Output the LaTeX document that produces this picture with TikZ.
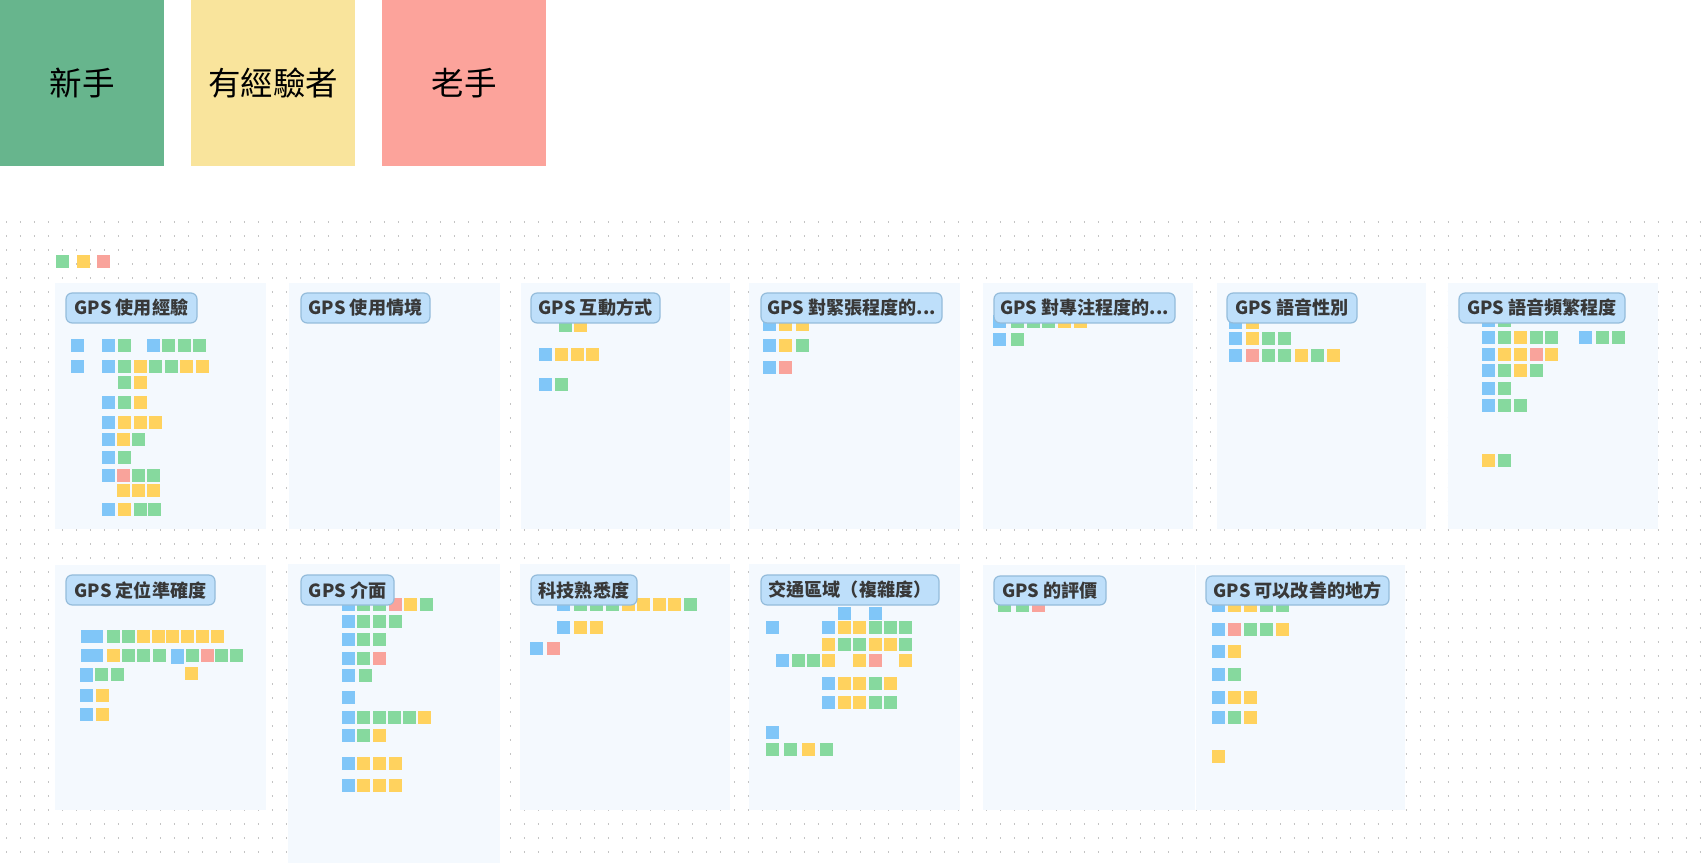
\documentclass[tikz,border=0pt]{standalone}
\usepackage{fontspec}
\newfontfamily\cjk{Noto Sans CJK TC}
\definecolor{lgG}{HTML}{67B58D}
\definecolor{lgY}{HTML}{F9E49C}
\definecolor{lgR}{HTML}{FCA39B}
\definecolor{stB}{HTML}{80C6F8}
\definecolor{stG}{HTML}{86D99E}
\definecolor{stY}{HTML}{FFD25E}
\definecolor{stR}{HTML}{F9A39B}
\definecolor{panelbg}{HTML}{F4F9FE}
\definecolor{pillfill}{HTML}{BEDFFA}
\definecolor{pilldraw}{HTML}{94BCDB}
\definecolor{dotc}{HTML}{C4C4C4}
\definecolor{ttltext}{HTML}{383838}
\newcommand\srow[2]{\foreach \xx/\cc in {#2}{\fill[\cc] (\xx,#1) rectangle ++(13,13);}}
\newcommand\pill[6]{\node[ttl, minimum width={(#4-#2)*0.02cm}, minimum height={(#5-#3)*0.02cm}] (#1) at ({(#2+#4)/2},{(#3+#5)/2}) {#6};}
\begin{document}
\begin{tikzpicture}[x=0.02cm,y=-0.02cm,
  legendbox/.style={anchor=north west, inner sep=0, minimum width=164*0.02cm, minimum height=166*0.02cm, font=\cjk\fontsize{18.5pt}{22pt}\selectfont, text=black},
  ttl/.style={draw=pilldraw, fill=pillfill, line width=0.7pt, rounded corners=3.5pt, inner sep=0, font=\cjk\bfseries\fontsize{10.3pt}{12pt}\selectfont, text=ttltext},
  panel/.style={fill=panelbg},
  dotline/.style={draw=dotc, line width=0.03cm, dash pattern=on 0.03cm off 0.25cm}]
\useasboundingbox (0,0) rectangle (1704,864);
\fill[white] (0,0) rectangle (1704,864);
% dotted grid
\foreach \yy in {222,236,...,862}{\draw[dotline] (6,\yy) -- (1704,\yy);}
% legend
\node[legendbox, fill=lgG] (novice) at (0,0) {新手};
\node[legendbox, fill=lgY] (experienced) at (191,0) {有經驗者};
\node[legendbox, fill=lgR] (veteran) at (382,0) {老手};
\srow{255}{56/stG,77/stY,97/stR}
% panels
\fill[panel] (55,283) rectangle (266,529);
\fill[panel] (289,283) rectangle (500,529);
\fill[panel] (521,283) rectangle (730,529);
\fill[panel] (749,283) rectangle (960,529);
\fill[panel] (983,283) rectangle (1193,529);
\fill[panel] (1217,283) rectangle (1426,529);
\fill[panel] (1448,283) rectangle (1658,529);
\fill[panel] (55,565) rectangle (266,810);
\fill[panel] (288,564) rectangle (500,863);
\fill[panel] (520,564) rectangle (730,810);
\fill[panel] (749,564) rectangle (960,810);
\fill[panel] (983,565) rectangle (1195,810);
\fill[panel] (1196,565) rectangle (1405,810);
% stickies top 1
\srow{339}{71/stB,102/stB,118/stG,147/stB,162/stG,178/stG,193/stG}
\srow{360}{71/stB,102/stB,118/stG,134/stY,149/stG,165/stG,180/stY,196/stY}
\srow{376}{118/stG,134/stY}
\srow{396}{102/stB,118/stG,134/stY}
\srow{416}{102/stB,118/stY,134/stY,149/stY}
\srow{433}{102/stB,117/stY,132/stG}
\srow{451}{102/stB,118/stG}
\srow{469}{102/stB,117/stR,132/stG,147/stG}
\srow{484}{117/stY,132/stY,147/stY}
\srow{503}{102/stB,118/stY,134/stG,148/stG}
% top 3
\srow{319}{559/stG,574/stY}
\srow{348}{539/stB,555/stY,571/stY,586/stY}
\srow{378}{539/stB,555/stG}
% top 4
\srow{318}{763/stB,779/stY,796/stY}
\srow{339}{763/stB,779/stY,796/stG}
\srow{361}{763/stB,779/stR}
% top 5
\srow{315}{993/stB,1011/stG,1027/stG,1042/stG,1058/stY,1074/stY}
\srow{333}{993/stB,1011/stG}
% top 6
\srow{316}{1229/stB,1246/stY}
\srow{332}{1229/stB,1246/stY,1262/stG,1278/stG}
\srow{349}{1229/stB,1246/stR,1262/stG,1278/stG,1295/stY,1311/stG,1327/stY}
% top 7
\srow{314}{1482/stB,1498/stG}
\srow{331}{1482/stB,1498/stG,1514/stY,1530/stG,1545/stG,1579/stB,1596/stG,1612/stG}
\srow{348}{1482/stB,1498/stY,1514/stY,1530/stR,1545/stY}
\srow{364}{1482/stB,1498/stG,1514/stY,1530/stG}
\srow{382}{1482/stB,1498/stG}
\srow{399}{1482/stB,1498/stG,1514/stG}
\srow{454}{1482/stY,1498/stG}
% bottom 1
\fill[stB] (81,630) rectangle ++(22,13);
\srow{630}{107/stG,122/stG,137/stY,152/stY,166/stY,181/stY,196/stY,211/stY}
\fill[stB] (81,649) rectangle ++(22,13);
\fill[stB] (171,649) rectangle ++(13,15);
\srow{649}{107/stY,122/stG,137/stG,153/stG,186/stG,201/stR,215/stG,230/stG}
\fill[stB] (80,668) rectangle ++(13,14);
\srow{668}{95/stG,111/stG}
\srow{667}{185/stY}
\srow{689}{80/stB,96/stY}
\srow{708}{80/stB,96/stY}
% bottom 2
\srow{598}{342/stB,357/stG,373/stG,389/stR,404/stY,420/stG}
\srow{615}{342/stB,357/stG,373/stG,389/stG}
\srow{633}{342/stB,357/stG,373/stG}
\srow{652}{342/stB,357/stG,373/stR}
\srow{669}{342/stB,359/stG}
\srow{691}{342/stB}
\srow{711}{342/stB,357/stG,373/stG,388/stG,403/stG,418/stY}
\srow{729}{342/stB,357/stG,373/stY}
\srow{757}{342/stB,357/stY,373/stY,389/stY}
\srow{779}{342/stB,357/stY,373/stY,389/stY}
% bottom 3
\srow{598}{557/stB,574/stG,590/stG,606/stG,622/stY,637/stY,653/stY,668/stY,684/stG}
\srow{621}{557/stB,574/stY,590/stY}
\srow{642}{530/stB,547/stR}
% bottom 4
\srow{607}{838/stB,869/stB}
\srow{621}{766/stB,822/stB,838/stY,853/stY,869/stG,884/stG,899/stG}
\srow{638}{822/stY,838/stG,853/stG,869/stY,884/stY,899/stG}
\srow{654}{776/stB,792/stG,807/stG,822/stY,853/stY,869/stR,899/stY}
\srow{677}{822/stB,838/stY,853/stY,869/stG,884/stY}
\srow{696}{822/stB,838/stY,853/stY,869/stG,884/stG}
\srow{726}{766/stB}
\srow{743}{766/stG,784/stG,802/stY,820/stG}
% bottom 5
\srow{599}{998/stG,1016/stG,1032/stR}
% bottom 6
\srow{599}{1212/stB,1228/stY,1244/stY,1260/stG,1276/stG}
\srow{623}{1212/stB,1228/stR,1244/stG,1260/stG,1276/stY}
\srow{645}{1212/stB,1228/stY}
\srow{668}{1212/stB,1228/stG}
\srow{691}{1212/stB,1228/stY,1244/stY}
\srow{711}{1212/stB,1228/stG,1244/stY}
\srow{750}{1212/stY}
% titles
\pill{t1}{66}{293}{197}{323}{GPS 使用經驗}
\pill{t2}{301}{293}{430}{323}{GPS 使用情境}
\pill{t3}{531}{293}{660}{323}{GPS 互動方式}
\pill{t4}{761}{293}{942}{323}{GPS 對緊張程度的...}
\pill{t5}{994}{293}{1175}{323}{GPS 對專注程度的...}
\pill{t6}{1227}{293}{1357}{323}{GPS 語音性別}
\pill{t7}{1459}{293}{1625}{323}{GPS 語音頻繁程度}
\pill{b1}{66}{575}{215}{605}{GPS 定位準確度}
\pill{b2}{301}{575}{394}{605}{GPS 介面}
\pill{b3}{531}{575}{637}{605}{科技熟悉度}
\pill{b4}{761}{575}{939}{605}{交通區域（複雜度）}
\pill{b5}{994}{576}{1106}{605}{GPS 的評價}
\pill{b6}{1206}{576}{1389}{605}{GPS 可以改善的地方}
\end{tikzpicture}
\end{document}
